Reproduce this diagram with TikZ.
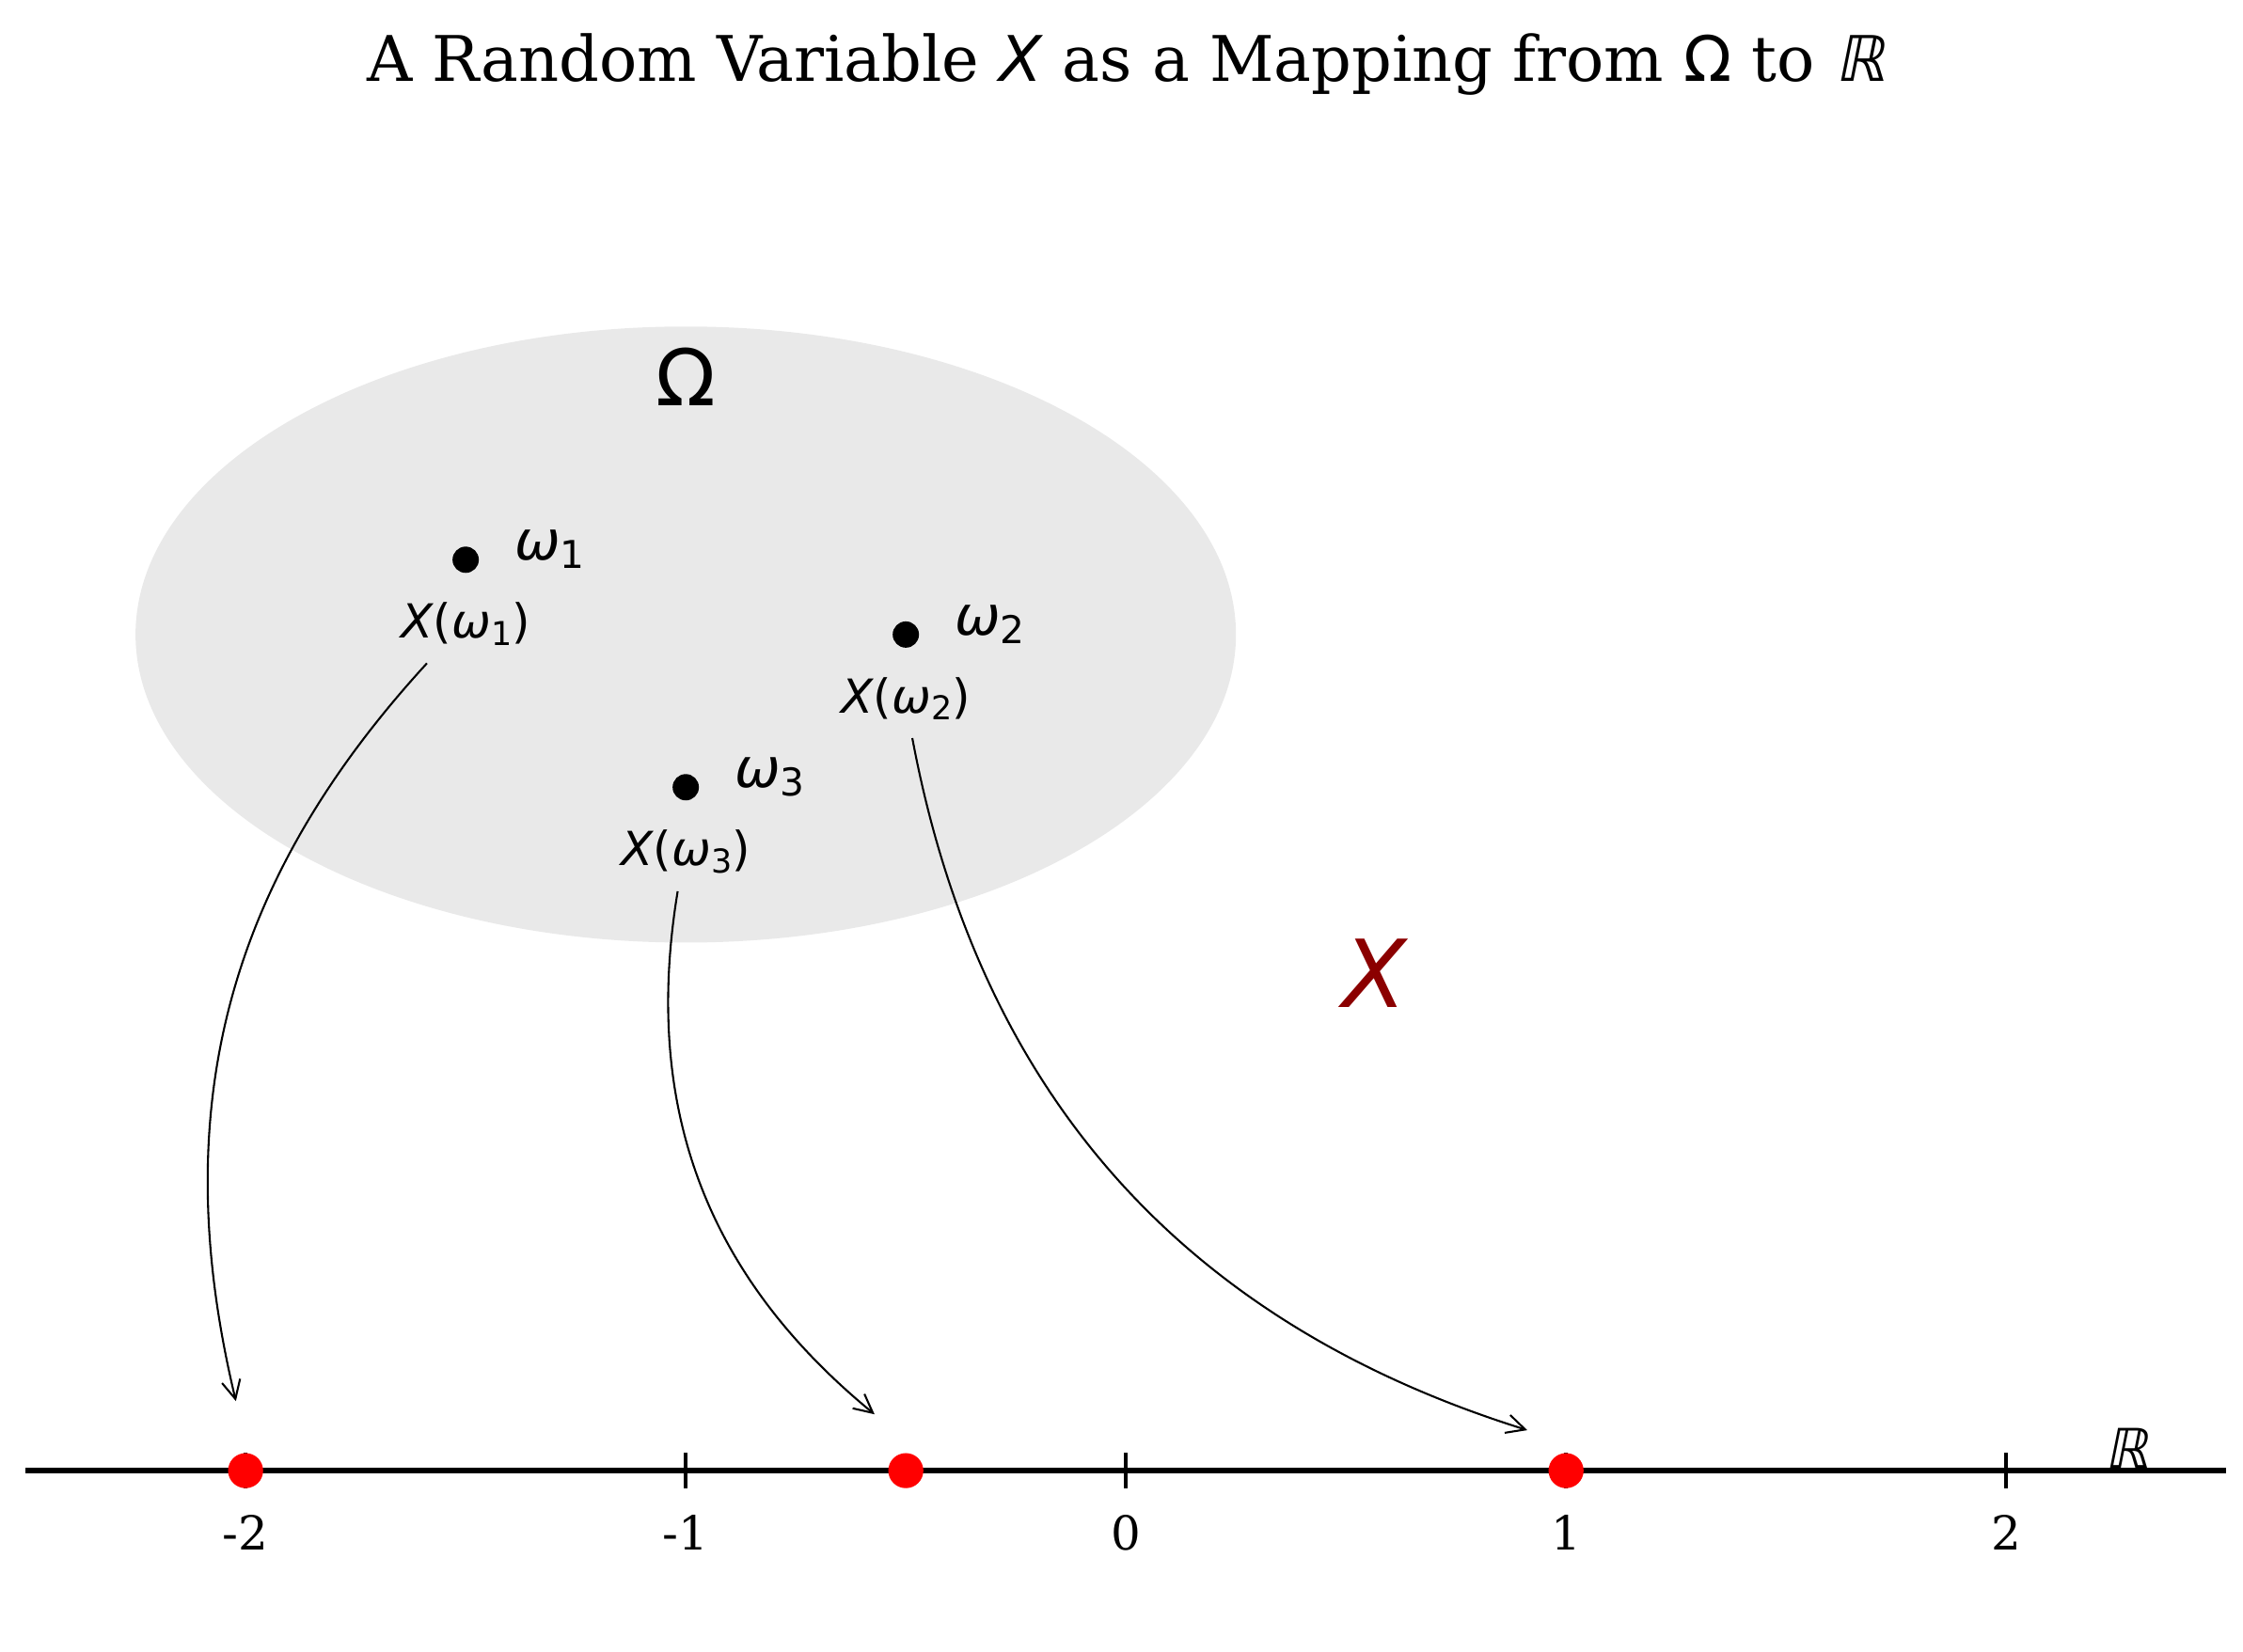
\documentclass[tikz,border=0pt]{standalone}
\usepackage{fontspec}
\setmainfont{DejaVu Serif}
\newfontfamily\mathsans[ItalicFont={DejaVu Sans Oblique}]{DejaVu Sans}
\newfontfamily\bbsans[FakeSlant=0.2]{DejaVu Sans}
\usetikzlibrary{arrows.meta,positioning}
\definecolor{omegagray}{RGB}{233,233,233}
\definecolor{mapred}{RGB}{139,0,0}
\newcommand{\subidx}[1]{\raisebox{-0.15em}{\scalebox{0.7}{\upshape #1}}}
\newcommand{\om}[1]{{\mathsans\itshape ω\subidx{#1}}}
\newcommand{\Xom}[1]{{\mathsans\itshape X\upshape(\itshape ω\subidx{#1}\upshape)}}
\tikzset{
  outcome/.style={circle, fill=black, inner sep=0pt, minimum size=5.1pt},
  realval/.style={circle, fill=red, inner sep=0pt, minimum size=6.8pt},
  omlabel/.style={inner sep=0pt, font=\fontsize{10.6}{12}\selectfont},
  imglabel/.style={font=\fontsize{9.1}{11}\selectfont},
  mapArrow/.style={-{Straight Barb[length=3.6pt,width=3.6pt]}, line width=0.38pt, bend right=31},
}
\begin{document}
\begin{tikzpicture}[x=3cm, y=3cm, line join=round]
		\useasboundingbox (-2.558,-0.410) rectangle (2.538,3.342);
		\node[anchor=base, font=\fontsize{12.2}{14}\selectfont] (title) at (0,3.158) {A Random Variable {\mathsans\itshape X} as a Mapping from {\mathsans Ω} to {\bbsans ℝ}};
		% sample space
		\fill[omegagray] (-1,1.9) ellipse [x radius=1.25, y radius=0.7];
		\node[font=\mathsans\fontsize{15.2}{18}\selectfont] (Omega) at (-1,2.485) {Ω};
		% real line
		\draw[line width=1.14pt] (-2.5,0) -- (2.5,0);
		\foreach \x in {-2,...,2}\draw[line width=0.76pt] (\x,0.04) -- (\x,-0.04) node[below=1.5pt, font=\fontsize{9.1}{11}\selectfont] (t\x) {\x};
		\node[anchor=base, font=\bbsans\fontsize{10.6}{12}\selectfont] (R) at (2.275,0.006) {ℝ};
		% outcomes
		\node[outcome] (w1) at (-1.5,2.07) {};
		\node[outcome] (w2) at (-0.5,1.9) {};
		\node[outcome] (w3) at (-1,1.553) {};
		\node[omlabel, right=2.3mm of w1, yshift=2pt] (w1name) {\om{1}};
		\node[omlabel, right=2.3mm of w2, yshift=2pt] (w2name) {\om{2}};
		\node[omlabel, right=2.3mm of w3, yshift=2pt] (w3name) {\om{3}};
		\node[imglabel, below=2pt of w1] (X1) {\Xom{1}};
		\node[imglabel, below=2pt of w2] (X2) {\Xom{2}};
		\node[imglabel, below=2pt of w3] (X3) {\Xom{3}};
		% values on the line
		\node[realval] (r1) at (-2,0) {};
		\node[realval] (r2) at (1,0) {};
		\node[realval] (r3) at (-0.5,0) {};
		\coordinate (tip1) at (-2.022,0.158);
		\coordinate (tip2) at (0.912,0.092);
		\coordinate (tip3) at (-0.571,0.128);
		\draw[mapArrow, bend right=28] (X1) to (tip1);
		\draw[mapArrow] (X2) to (tip2);
		\draw[mapArrow, bend right=30] (X3) to (tip3);
		\node[font=\mathsans\itshape\fontsize{18.2}{22}\selectfont, text=mapred] (Xmap) at (0.565,1.13) {X};
\end{tikzpicture}
\end{document}
